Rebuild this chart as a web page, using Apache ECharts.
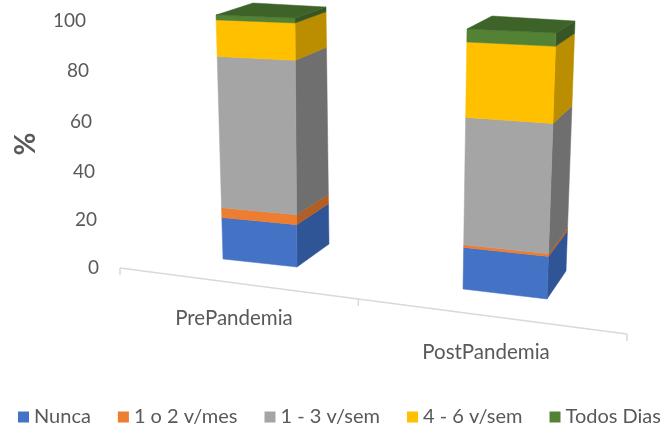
<!DOCTYPE html>
<html>
<head>
	<meta charset="UTF-8">
	<title></title>
	<script src="https://cdn.jsdelivr.net/npm/echarts@6/dist/echarts.min.js"></script>
	<style>html,body{margin:0;background:#fff}</style>
</head>
<body>
	<div id="main" style="width:662px;height:430px;"></div>
	<script type="text/javascript">
		var categories = ['PrePandemia', 'PostPandemia'];
		var nunca = [17, 16];
		var unoDos = [4, 1];
		var unoTres = [62, 49];
		var cuatroSeis = [15, 29];
		var todosDias = [2, 5];
		var yTicks = [0, 20, 40, 60, 80, 100];
		var seriesNames = ['Nunca', '1 o 2 v/mes', '1 - 3 v/sem', '4 - 6 v/sem', 'Todos Dias'];

		var grey = '#595959';
		var front = ['#4472c4', '#ed7d31', '#a5a5a5', '#ffc000', '#548235'];
		var side = ['#2f5597', '#b35e25', '#6f6f6f', '#bb8d00', '#375623'];
		var topColor = '#3e6329';

		// fake 3d: where each box edge lands, relative to the axis point of that bar
		// [bottom dx, bottom dy, top dx, top dy]
		var boxEdges = [{
			fl: [-11, -9, -18, -253],
			fr: [63, -1, 61, -250],
			br: [95, -24, 92, -261],
			bl: [19, -15, 19, -265]
		}, {
			fl: [-23, 21, -19, -239],
			fr: [61, 31, 70, -235],
			br: [80, 3, 89, -247],
			bl: [6, -2, 6, -252]
		}];
		// tilted value labels: [right shift, down shift] per tick
		var tickShift = { 0: [1, 0], 20: [3, 1.5], 40: [5, 3.2], 60: [8, 3], 80: [11, 1.5], 100: [14, 0.5] };
		var catShift = { PrePandemia: 0, PostPandemia: 34 };

		var valueRich = {};
		yTicks.forEach(function (t) {
			valueRich['t' + t] = { padding: [tickShift[t][1] * 2, tickShift[t][0], 0, 0] };
		});
		var catRich = {};
		categories.forEach(function (c) {
			catRich[c] = { padding: [catShift[c], 0, 0, 0] };
		});

		function edgePoint(api, cat, edge, v) {
			var base = api.coord([cat, 0]);
			var full = api.coord([cat, 100]);
			var t = (api.coord([cat, v])[1] - base[1]) / (full[1] - base[1]);
			return [
				base[0] + edge[0] + (edge[2] - edge[0]) * t,
				base[1] + edge[1] + (edge[3] - edge[1]) * t
			];
		}

		function poly(points, color) {
			return {
				type: 'polygon',
				shape: { points: points },
				style: { fill: color, stroke: color, lineWidth: 0.5 }
			};
		}

		function makeSeries(idx, values) {
			var data = values.map(function (v, i) {
				var start = 0;
				[nunca, unoDos, unoTres, cuatroSeis, todosDias].slice(0, idx).forEach(function (s) {
					start += s[i];
				});
				return [i, start, start + v];
			});
			return {
				type: 'custom',
				name: seriesNames[idx],
				itemStyle: { color: front[idx] },
				encode: { x: 0, y: 2 },
				data: data,
				renderItem: function (params, api) {
					var cat = api.value(0);
					var a = api.value(1);
					var b = api.value(2);
					var box = boxEdges[cat];
					var children = [
						poly([
							edgePoint(api, cat, box.fr, a), edgePoint(api, cat, box.br, a),
							edgePoint(api, cat, box.br, b), edgePoint(api, cat, box.fr, b)
						], side[idx]),
						poly([
							edgePoint(api, cat, box.fl, a), edgePoint(api, cat, box.fr, a),
							edgePoint(api, cat, box.fr, b), edgePoint(api, cat, box.fl, b)
						], front[idx])
					];
					if (idx === seriesNames.length - 1) {
						children.push(poly([
							edgePoint(api, cat, box.fl, b), edgePoint(api, cat, box.fr, b),
							edgePoint(api, cat, box.br, b), edgePoint(api, cat, box.bl, b)
						], topColor));
					}
					return { type: 'group', children: children };
				}
			};
		}

		// floor line running down to the right, with its three ticks
		var floorSeries = {
			type: 'custom',
			silent: true,
			data: [[0, 0]],
			encode: { x: 0, y: 1 },
			renderItem: function (params, api) {
				var cs = params.coordSys;
				var y0 = api.coord([0, 0])[1];
				var x1 = cs.x + 12;
				var x2 = cs.x + cs.width + 15;
				var slope = 0.13;
				var style = { stroke: '#d9d9d9', lineWidth: 1.5, fill: null };
				var kids = [{
					type: 'line',
					shape: { x1: x1, y1: y0, x2: x2, y2: y0 + (x2 - x1) * slope },
					style: style
				}];
				[0, 0.47, 1].forEach(function (f) {
					var x = x1 + (x2 - x1) * f;
					var y = y0 + (x - x1) * slope;
					kids.push({ type: 'line', shape: { x1: x, y1: y, x2: x, y2: y + 7 }, style: style });
				});
				return { type: 'group', children: kids };
			}
		};

		var myChart = echarts.init(document.getElementById('main'));
		myChart.setOption({
			backgroundColor: '#fff',
			animation: false,
			textStyle: { fontFamily: 'Lato' },
			grid: { left: 108, right: 50, top: 20, bottom: 162 },
			legend: {
				data: seriesNames,
				left: 13,
				top: 402,
				width: 700,
				icon: 'rect',
				itemWidth: 11,
				itemHeight: 11,
				itemGap: 27,
				textStyle: { color: grey, fontSize: 20, fontFamily: 'Lato' }
			},
			xAxis: {
				type: 'category',
				data: categories,
				axisLine: { show: false },
				axisTick: { show: false },
				axisLabel: {
					interval: 0,
					margin: 40,
					color: grey,
					fontSize: 20.5,
					fontFamily: 'Lato',
					rich: catRich,
					formatter: function (v) {
						return '{' + v + '|' + v + '}';
					}
				}
			},
			yAxis: {
				type: 'value',
				min: 0,
				max: 100,
				interval: 20,
				name: '%',
				nameLocation: 'middle',
				nameRotate: 90,
				nameGap: 68,
				nameTextStyle: { color: grey, fontSize: 28, fontWeight: 'bold', fontFamily: 'Lato' },
				axisLine: { show: false },
				axisTick: { show: false },
				splitLine: { show: false },
				axisLabel: {
					margin: 8,
					color: grey,
					fontSize: 19,
					fontFamily: 'Lato',
					rich: valueRich,
					formatter: function (v) {
						return '{t' + v + '|' + v + '}';
					}
				}
			},
			series: [floorSeries].concat([
				makeSeries(0, nunca),
				makeSeries(1, unoDos),
				makeSeries(2, unoTres),
				makeSeries(3, cuatroSeis),
				makeSeries(4, todosDias)
			])
		});
	</script>
</body>
</html>
